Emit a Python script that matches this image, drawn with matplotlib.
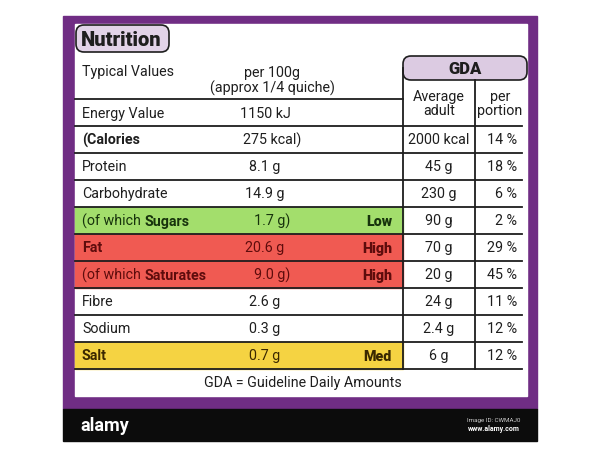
import matplotlib.pyplot as plt
from matplotlib.patches import Rectangle, FancyBboxPatch

# table contents
nutrients = ['(Calories', 'Protein', 'Carbohydrate', '(of which ', 'Fat',
             '(of which ', 'Fibre', 'Sodium', 'Salt']
bold_tail = ['', '', '', 'Sugars', '', 'Saturates', '', '', '']
bold_label = [True, False, False, False, True, False, False, False, True]
per_100g = ['275 kcal)', '8.1 g', '14.9 g', '1.7 g)', '20.6 g', '9.0 g)',
            '2.6 g', '0.3 g', '0.7 g']
levels = ['', '', '', 'Low', 'High', 'High', '', '', 'Med']
gda_adult = ['2000 kcal', '45 g', '230 g', '90 g', '70 g', '20 g', '24 g',
             '2.4 g', '6 g']
gda_portion = ['14 %', '18 %', '6 %', '2 %', '29 %', '45 %', '11 %', '12 %',
               '12 %']

band_colors = {'Low': '#a3de6c', 'High': '#f05a52', 'Med': '#f5d342'}
text_colors = {'Low': '#17330c', 'High': '#5e0c0c', 'Med': '#3a2800'}

plt.rcParams['font.family'] = ['Roboto', 'DejaVu Sans']

fig = plt.figure(figsize=(6, 4.6), dpi=100)
ax = fig.add_axes([0, 0, 1, 1])
ax.set_xlim(0, 600)
ax.set_ylim(460, 0)
ax.axis('off')

purple = '#702d84'
ink = '#1e1e1e'
fs = 10.3

# frame: purple card, white panel, black strip
ax.add_patch(Rectangle((63, 17), 474, 393, color=purple, zorder=0))
ax.add_patch(Rectangle((75, 25), 452, 372, color='white', zorder=1))
ax.add_patch(Rectangle((63, 410), 474, 32, color='#0c0c0c', zorder=1))
ax.text(80, 426, 'alamy', color='white', fontsize=13, fontweight='bold',
        va='center', ha='left')
ax.text(520, 421, 'Image ID: CWMAJ0', color='#cccccc', fontsize=4.5,
        va='center', ha='right')
ax.text(520, 429, 'www.alamy.com', color='white', fontsize=5,
        fontweight='bold', va='center', ha='right')

# tabs
ax.add_patch(FancyBboxPatch((76, 26), 93, 27, boxstyle='round,pad=0,rounding_size=8',
                            fc='#e2d3e8', ec=ink, lw=1.2, zorder=2))
ax.text(81, 40, 'Nutrition', fontsize=14.5, fontweight='black', color=ink,
        va='center', ha='left', zorder=3)
ax.add_patch(FancyBboxPatch((403, 57), 124, 24, boxstyle='round,pad=0,rounding_size=8',
                            fc='#dccbe2', ec=ink, lw=1.2, zorder=2))
ax.text(465, 69, 'GDA', fontsize=12, fontweight='black', color=ink,
        va='center', ha='center', zorder=3)

# header
ax.text(82, 72, 'Typical Values', fontsize=fs, color=ink, va='center')
ax.text(272, 73, 'per 100g', fontsize=fs, color=ink, va='center', ha='center')
ax.text(272, 88, '(approx 1/4 quiche)', fontsize=fs, color=ink, va='center',
        ha='center')
ax.text(439, 104, 'Average\nadult', fontsize=fs, color=ink, va='center',
        ha='center', linespacing=1.05)
ax.text(500, 104, 'per\nportion', fontsize=fs, color=ink, va='center',
        ha='center', linespacing=1.05)
ax.text(82, 114, 'Energy Value', fontsize=fs, color=ink, va='center')
ax.text(265, 114, '1150 kJ', fontsize=fs, color=ink, va='center', ha='center')

top, row_h = 127, 27
lw = 1.3
ax.plot([75, 403], [100, 100], color=ink, lw=lw, zorder=4)
ax.plot([75, 522], [top, top], color=ink, lw=lw, zorder=4)

for i, name in enumerate(nutrients):
    y0 = top + i * row_h
    yc = y0 + row_h / 2
    lev = levels[i]
    col = ink
    if lev:
        ax.add_patch(Rectangle((75, y0), 328, row_h, color=band_colors[lev],
                               zorder=2))
        col = text_colors[lev]
        ax.text(392, yc + 1, lev, fontsize=fs, fontweight='black',
                color=col, va='center', ha='right', zorder=3)
    t = ax.text(82, yc, name, fontsize=fs, color=col, va='center',
                fontweight='bold' if bold_label[i] else 'normal', zorder=3)
    if bold_tail[i]:
        ax.annotate(bold_tail[i], xy=(1, 0), xycoords=t, fontsize=fs,
                    fontweight='bold', color=col, va='bottom', ha='left',
                    zorder=3)
    xv = 272 if per_100g[i].endswith(')') else 265
    ax.text(xv, yc, per_100g[i], fontsize=fs, color=col, va='center',
            ha='center', zorder=3)
    ax.text(439, yc, gda_adult[i], fontsize=fs, color=ink, va='center',
            ha='center', zorder=3)
    ax.text(517, yc, gda_portion[i], fontsize=fs, color=ink, va='center',
            ha='right', zorder=3)
    ax.plot([75, 522], [y0 + row_h, y0 + row_h], color=ink, lw=lw, zorder=4)

bottom = top + len(nutrients) * row_h
ax.plot([403, 403], [69, bottom], color=ink, lw=lw, zorder=4)
ax.plot([475, 475], [81, bottom], color=ink, lw=lw, zorder=4)

ax.text(303, 383, 'GDA = Guideline Daily Amounts', fontsize=fs, color=ink,
        va='center', ha='center')

fig.savefig('out.png', dpi=100)
